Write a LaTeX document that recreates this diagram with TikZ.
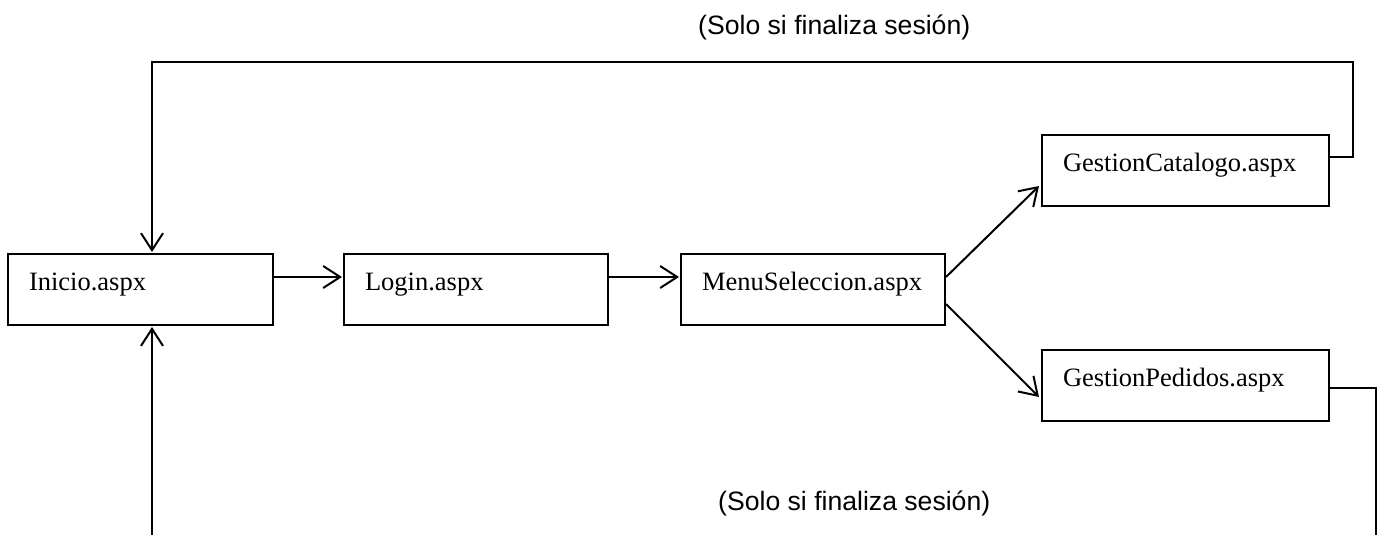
\documentclass[tikz,border=0pt]{standalone}
\usepackage{fontspec}
\setmainfont{Liberation Serif}
\newfontfamily\arialfont{Liberation Sans}
\usetikzlibrary{arrows.meta,calc}
\begin{document}
\begin{tikzpicture}[x=1pt,y=-1pt,
  page/.style={draw,line width=2pt,anchor=north west,align=left,
    inner xsep=21pt,inner ysep=18pt,text height=18pt,text depth=17pt,
    font=\fontsize{26.5}{30}\selectfont},
  flow/.style={line width=2pt},
  arr/.style={flow,-{Straight Barb[length=17pt,width=22pt,line width=2pt]}},
  note/.style={anchor=base west,inner sep=0pt,font=\arialfont\fontsize{26.6}{30}\selectfont}]
\useasboundingbox (0,0) rectangle (1383,535);
\node[page,text width=223pt] (inicio) at (7,253) {Inicio.aspx};
\node[page,text width=222pt] (login) at (343,253) {Login.aspx};
\node[page,text width=222pt] (menu) at (680,253) {MenuSeleccion.aspx};
\node[page,text width=245pt] (cat) at (1041,134) {GestionCatalogo.aspx};
\node[page,text width=245pt] (ped) at (1041,349) {GestionPedidos.aspx};
\node[note] (lbltop) at (698,35) {(Solo si finaliza sesión)};
\node[note] (lblbot) at (718,510) {(Solo si finaliza sesión)};
\coordinate (intop) at ($(inicio.north west)+(145,-1)$);
\coordinate (inbot) at ($(inicio.south west)+(145,1)$);
\coordinate (pbot) at (1376,537);
\coordinate (ibot) at (152,537);
\draw[arr] ($(inicio.north east)+(0,24)$) -- ($(login.north west)+(-1,24)$);
\draw[arr] ($(login.north east)+(0,24)$) -- ($(menu.north west)+(-1,24)$);
\draw[arr] ($(menu.north east)+(0,24)$) -- ($(cat.north west)+(-2,52)$);
\draw[arr] ($(menu.north east)+(0,51)$) -- ($(ped.north west)+(-2,48)$);
\draw[arr] ($(cat.north east)+(0,23)$) -- ++(23,0) -- ++(0,-95) -| (intop);
\draw[flow] ($(ped.north east)+(0,39)$) -| (pbot);
\draw[arr] (ibot) -- (inbot);
\end{tikzpicture}
\end{document}
